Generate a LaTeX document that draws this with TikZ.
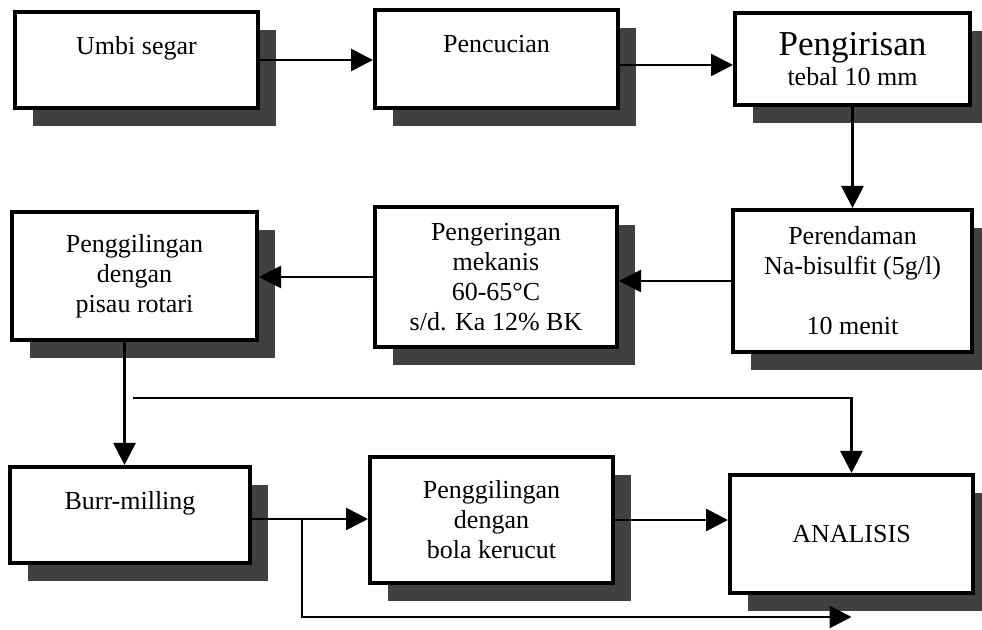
\documentclass[tikz,border=0pt]{standalone}
\usepackage{fontspec}
\setmainfont{Liberation Serif}
\usetikzlibrary{arrows.meta, shadows}

\begin{document}
\begin{tikzpicture}[x=0.5pt, y=-0.5pt,
  font=\fontsize{13}{15}\selectfont,
  kotak/.style={draw, line width=2pt, fill=white, align=center, inner sep=2pt,
    drop shadow={shadow xshift=9pt, shadow yshift=-9pt, fill=black!75, opacity=1}},
  panah/.style={line width=1.4pt, -{Triangle[length=11pt,width=11pt]}}]
\useasboundingbox (0,0) rectangle (982,630);
\node[kotak, minimum width=121.5pt, minimum height=48pt] (umbi) at (136.5,60) {Umbi segar\\\mbox{}};
\node[kotak, minimum width=121.5pt, minimum height=49pt] (cuci) at (496.5,59) {Pencucian\\\mbox{}};
\node[kotak, minimum width=117.5pt, minimum height=46pt] (iris) at (852.5,59) {{\fontsize{17.5}{18}\selectfont Pengirisan}\\tebal 10 mm};
\node[kotak, minimum width=119.5pt, minimum height=71pt] (rendam) at (852.5,281) {Perendaman\\Na-bisulfit (5g/l)\\[15pt]10 menit};
\node[kotak, minimum width=121pt, minimum height=70pt] (kering) at (496,277) {Pengeringan\\mekanis\\60-65°C\\s/d. Ka 12\% BK};
\node[kotak, minimum width=122.5pt, minimum height=64pt] (giling) at (134.5,276) {Penggilingan\\dengan\\pisau rotari};
\node[kotak, minimum width=120pt, minimum height=48pt] (burr) at (130,515) {Burr-milling\\\mbox{}};
\node[kotak, minimum width=121.5pt, minimum height=63pt] (bola) at (491.5,520) {Penggilingan\\dengan\\bola kerucut};
\node[kotak, minimum width=121.5pt, minimum height=59pt] (analisis) at (851.5,534) {ANALISIS};

\coordinate (cabang) at (133,398);
\path (burr.east) ++(25pt,-2pt) coordinate (simpang);

\draw[panah] (umbi.east) -- (umbi.east -| cuci.west);
\draw[panah] ([yshift=-3pt]cuci.east) -- ([yshift=-3pt]cuci.east -| iris.west);
\draw[panah] (iris) -- (rendam);
\draw[panah] (rendam.west) -- (rendam.west -| kering.east);
\draw[panah] (kering.west) -- (kering.west -| giling.east);
\draw[panah] ([xshift=-5pt]giling.south) -- ([xshift=-5pt]giling.south |- burr.north);
\draw[panah] (cabang) -| (analisis.north);
\draw[panah] ([yshift=-2pt]burr.east) -- ([yshift=-2pt]burr.east -| bola.west);
\draw[panah] (simpang) |- ([yshift=-11pt]analisis.south);
\draw[panah] (bola.east) -- (bola.east -| analisis.west);
\end{tikzpicture}
\end{document}
